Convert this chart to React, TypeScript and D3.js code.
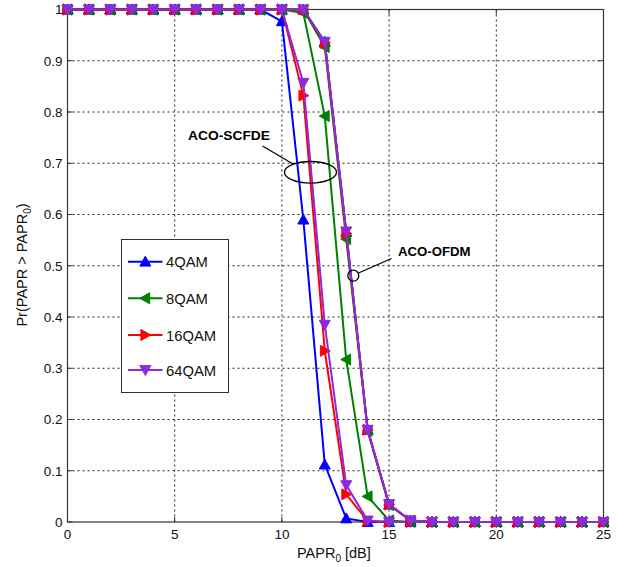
import React from "react";
import * as d3 from "d3";

const xValues = [0,1,2,3,4,5,6,7,8,9,10,11,12,13,14,15,16,17,18,19,20,21,22,23,24,25];
const seriesNames = ["4QAM", "8QAM", "16QAM", "64QAM"];
const seriesColors = ["#0000ff", "#008000", "#ff0000", "#8a2be2"];
const seriesMarkers = ["up", "left", "right", "down"];

// ACO-SCFDE curves
const scfde4 = [1,1,1,1,1,1,1,1,1,1,0.977,0.59,0.112,0.007,0,0,0,0,0,0,0,0,0,0,0,0];
const scfde8 = [1,1,1,1,1,1,1,1,1,1,1,0.993,0.792,0.317,0.05,0.003,0,0,0,0,0,0,0,0,0,0];
const scfde16 = [1,1,1,1,1,1,1,1,1,1,1,0.832,0.334,0.054,0.002,0,0,0,0,0,0,0,0,0,0,0];
const scfde64 = [1,1,1,1,1,1,1,1,1,1,1,0.857,0.385,0.072,0.003,0,0,0,0,0,0,0,0,0,0,0];
// ACO-OFDM curves
const ofdm4 = [1,1,1,1,1,1,1,1,1,1,1,1,0.937,0.566,0.18,0.034,0.003,0,0,0,0,0,0,0,0,0];
const ofdm8 = [1,1,1,1,1,1,1,1,1,1,1,1,0.927,0.552,0.178,0.033,0.003,0,0,0,0,0,0,0,0,0];
const ofdm16 = [1,1,1,1,1,1,1,1,1,1,1,1,0.935,0.563,0.18,0.034,0.003,0,0,0,0,0,0,0,0,0];
const ofdm64 = [1,1,1,1,1,1,1,1,1,1,1,1,0.937,0.567,0.18,0.035,0.003,0,0,0,0,0,0,0,0,0];

const scfdeSeries = [scfde4, scfde8, scfde16, scfde64];
const ofdmSeries = [ofdm4, ofdm8, ofdm16, ofdm64];

const xTicks = [0, 5, 10, 15, 20, 25];
const yTicks = [0, 0.1, 0.2, 0.3, 0.4, 0.5, 0.6, 0.7, 0.8, 0.9, 1];

const left = 67.5, right = 603.5, top = 9.5, bottom = 522;

function markerPath(kind: string, r: number) {
  const a = r, b = r * 0.8;
  if (kind === "up") return `M0,${-a}L${a},${b}L${-a},${b}Z`;
  if (kind === "down") return `M0,${a}L${a},${-b}L${-a},${-b}Z`;
  if (kind === "left") return `M${-a},0L${b},${-a}L${b},${a}Z`;
  return `M${a},0L${-b},${-a}L${-b},${a}Z`;
}

export default function App() {
  const x = d3.scaleLinear().domain([0, 25]).range([left, right]);
  const y = d3.scaleLinear().domain([0, 1]).range([bottom, top]);
  const line = d3.line<[number, number]>().x(d => x(d[0])).y(d => y(d[1]));
  const font = "'Liberation Sans', Arial, sans-serif";

  const renderSeries = (vals: number[], i: number, key: string) => {
    const pts: [number, number][] = xValues.map((xv, j) => [xv, vals[j]]);
    return (
      <g key={key}>
        <path d={line(pts) || ""} fill="none" stroke={seriesColors[i]} strokeWidth={2} />
        {pts.map((p, j) => (
          <path key={j} d={markerPath(seriesMarkers[i], 5.5)} transform={`translate(${x(p[0])},${y(p[1])})`}
            fill={seriesColors[i]} stroke={seriesColors[i]} strokeWidth={1} />
        ))}
      </g>
    );
  };

  return (
    <svg width={626} height={567} style={{ position: "absolute", left: 0, top: 0 }}>
      <rect x={0} y={0} width={626} height={567} fill="#fff" />
      {/* grid */}
      {xTicks.filter(t => t > 0 && t < 25).map(t => (
        <line key={"gx" + t} x1={x(t)} x2={x(t)} y1={top} y2={bottom} stroke="#222" strokeWidth={1} strokeDasharray="2,3" />
      ))}
      {yTicks.filter(t => t > 0 && t < 1).map(t => (
        <line key={"gy" + t} x1={left} x2={right} y1={y(t)} y2={y(t)} stroke="#222" strokeWidth={1} strokeDasharray="2,3" />
      ))}
      {/* ticks */}
      {xTicks.map(t => (
        <g key={"tx" + t}>
          <line x1={x(t)} x2={x(t)} y1={bottom} y2={bottom - 5} stroke="#333" />
          <line x1={x(t)} x2={x(t)} y1={top} y2={top + 5} stroke="#333" />
          <text x={x(t)} y={538.5} textAnchor="middle" fontSize={13.5} fontFamily={font} fill="#111">{t}</text>
        </g>
      ))}
      {yTicks.map(t => (
        <g key={"ty" + t}>
          <line x1={left} x2={left + 5} y1={y(t)} y2={y(t)} stroke="#333" />
          <line x1={right} x2={right - 5} y1={y(t)} y2={y(t)} stroke="#333" />
          <text x={62.5} y={y(t) + 4.8} textAnchor="end" fontSize={13.5} fontFamily={font} fill="#111">{t}</text>
        </g>
      ))}
      {/* frame */}
      <rect x={left} y={top} width={right - left} height={bottom - top} fill="none" stroke="#333" strokeWidth={1.2} />
      {/* series */}
      {scfdeSeries.map((s, i) => renderSeries(s, i, "s" + i))}
      {ofdmSeries.map((s, i) => renderSeries(s, i, "o" + i))}
      {/* annotations */}
      <text x={188} y={139.5} fontSize={12.5} fontWeight="bold" fontFamily={font} fill="#000" textLength={82} lengthAdjust="spacingAndGlyphs">ACO-SCFDE</text>
      <line x1={262.5} y1={146} x2={293} y2={164} stroke="#000" strokeWidth={1.3} />
      <ellipse cx={310.5} cy={172.3} rx={26} ry={10.8} fill="none" stroke="#000" strokeWidth={1.3} />
      <text x={398} y={256} fontSize={12.5} fontWeight="bold" fontFamily={font} fill="#000" textLength={72.5} lengthAdjust="spacingAndGlyphs">ACO-OFDM</text>
      <line x1={358.5} y1={273} x2={391.5} y2={258.5} stroke="#000" strokeWidth={1.3} />
      <circle cx={353.3} cy={275.7} r={5.5} fill="none" stroke="#000" strokeWidth={1.3} />
      {/* legend */}
      <rect x={121.5} y={239.5} width={107} height={153} fill="#fff" stroke="#333" strokeWidth={1} />
      {seriesNames.map((n, i) => {
        const ly = [261.7, 298.3, 335, 370][i];
        return (
          <g key={"lg" + i}>
            <line x1={128} x2={162.5} y1={ly} y2={ly} stroke={seriesColors[i]} strokeWidth={2} />
            <path d={markerPath(seriesMarkers[i], 5.5)} transform={`translate(145.3,${ly})`} fill={seriesColors[i]} stroke={seriesColors[i]} />
            <text x={166} y={ly + 5.5} fontSize={14.8} fontFamily={font} fill="#111">{n}</text>
          </g>
        );
      })}
      {/* axis labels */}
      <text x={297} y={557.5} fontSize={14.5} fontFamily={font} fill="#111">PAPR<tspan fontSize={10} dy={4}>0</tspan><tspan dy={-4}> [dB]</tspan></text>
      <text transform="translate(27,265) rotate(-90)" textAnchor="middle" fontSize={14.5} fontFamily={font} fill="#111">Pr(PAPR &gt; PAPR<tspan fontSize={10} dy={4}>0</tspan><tspan dy={-4}>)</tspan></text>
    </svg>
  );
}
